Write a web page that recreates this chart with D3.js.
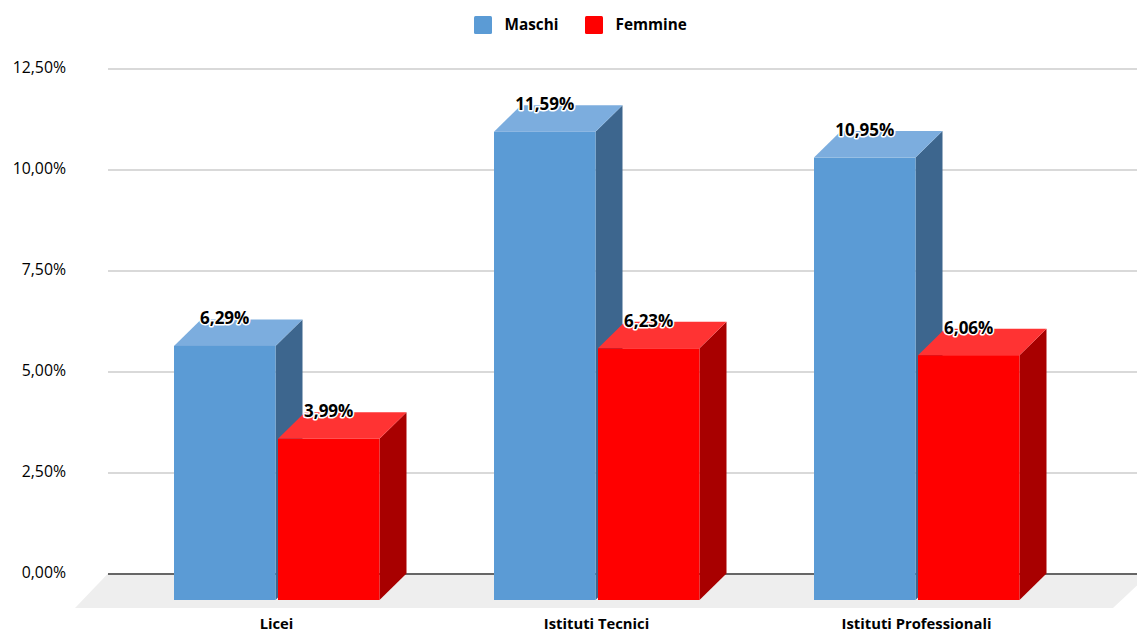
<!DOCTYPE html>
<html><head><meta charset="utf-8">
<script src="https://cdnjs.cloudflare.com/ajax/libs/d3/7.8.5/d3.min.js"></script>
<style>
html,body{margin:0;padding:0;background:#fff}
svg{display:block}
text{font-family:"Open Sans",sans-serif;fill:#000}
</style></head><body><div id="c"></div>
<script>
const categories = ["Licei","Istituti Tecnici","Istituti Professionali"];
const seriesNames = ["Maschi","Femmine"];
const maschi = [6.29,11.59,10.95];
const femmine = [3.99,6.23,6.06];
const tickValues = [0,2.5,5,7.5,10,12.5];
const seriesValues = [maschi,femmine];
const faces = [
  {front:"#5b9bd5",top:"#7cadde",side:"#3d668e"},
  {front:"#ff0000",top:"#ff3333",side:"#a80000"}
];
const W=1137,H=634;
const svg=d3.select("#c").append("svg").attr("width",W).attr("height",H);
const fmt=v=>v.toFixed(2).replace(".",",")+"%";
const y=d3.scaleLinear().domain([0,12.5]).range([573.5,68.5]);
const x0=d3.scaleBand().domain(categories).range([115.5,1075.5]).paddingInner(0).paddingOuter(0);
const x1=d3.scaleBand().domain(seriesNames).range([58.5,266.5]).padding(0);
const DX=27,DY=26.5,GAP=2.5;

// floor
svg.append("polygon").attr("fill","#eeeeee")
  .attr("points",[[108,y(0)],[1150,y(0)],[1113,608],[75,608]].join(" "));

// grid and axis
const axis=d3.axisLeft(y).tickValues(tickValues).tickFormat(fmt).tickSize(-(W-108)).tickPadding(42);
const gAxis=svg.append("g").attr("transform","translate(108,0)").call(axis);
gAxis.select(".domain").remove();
gAxis.selectAll(".tick line").attr("stroke",d=>d===0?"#666666":"#cccccc").attr("stroke-width",d=>d===0?2:1.6);
gAxis.selectAll(".tick text").attr("font-size",15.8).attr("fill","#222").attr("dy","0.25em");

// bars
const groups=svg.selectAll("g.cat").data(categories).join("g").attr("class","cat")
  .attr("transform",c=>`translate(${x0(c)},0)`);
const bars=groups.selectAll("g.bar")
  .data((c,i)=>seriesNames.map((s,j)=>({c,s,j,v:seriesValues[j][i]})))
  .join("g").attr("class","bar");
const L=d=>x1(d.s), R=d=>x1(d.s)+x1.bandwidth()-GAP, T=d=>y(d.v)+DY, B=()=>y(0)+DY;
bars.append("polygon").attr("fill",d=>faces[d.j].side)
  .attr("points",d=>[[R(d),T(d)],[R(d)+DX,y(d.v)],[R(d)+DX,y(0)],[R(d),B()]].join(" "));
bars.append("polygon").attr("fill",d=>faces[d.j].top)
  .attr("points",d=>[[L(d),T(d)],[L(d)+DX,y(d.v)],[R(d)+DX,y(d.v)],[R(d),T(d)]].join(" "));
bars.append("rect").attr("fill",d=>faces[d.j].front)
  .attr("x",L).attr("y",T).attr("width",d=>R(d)-L(d)).attr("height",d=>B()-T(d));

// value labels above all bars
groups.each(function(){
  d3.select(this).selectAll("g.bar").each(function(d){
    d3.select(this.parentNode).append("text")
      .attr("x",(L(d)+R(d))/2).attr("y",y(d.v)+5)
      .attr("text-anchor","middle").attr("font-size",17).attr("font-weight",700)
      .attr("stroke","#fff").attr("stroke-width",3).attr("paint-order","stroke")
      .attr("stroke-linejoin","round").text(fmt(d.v));
  });
});

// category labels
groups.append("text").attr("x",161).attr("y",629)
  .attr("text-anchor","middle").attr("font-size",14.8).attr("font-weight",700).text(c=>c);

// legend
const legendX=[474,585];
const leg=svg.selectAll("g.leg").data(seriesNames).join("g").attr("class","leg")
  .attr("transform",(s,i)=>`translate(${legendX[i]},16)`);
leg.append("rect").attr("width",18).attr("height",18).attr("rx",1.5).attr("fill",(s,i)=>faces[i].front);
leg.append("text").attr("x",30.5).attr("y",13.5).attr("font-size",15.3).attr("font-weight",700).text(s=>s);
</script></body></html>
